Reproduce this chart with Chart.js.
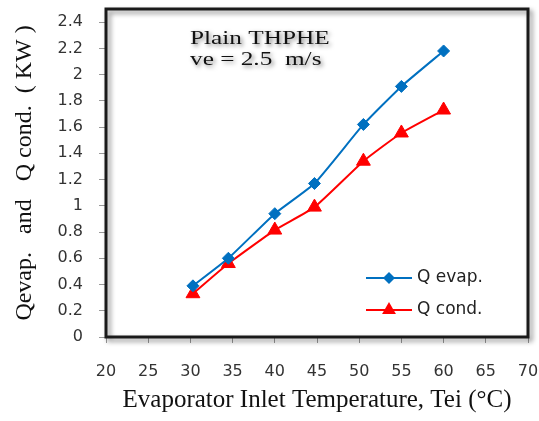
<!DOCTYPE html>
<html>
<head>
<meta charset="utf-8">
<script src="https://cdn.jsdelivr.net/npm/chart.js@4.4.1/dist/chart.umd.min.js"></script>
<style>
  html, body { margin: 0; padding: 0; background: #fff; }
  #chart-container { width: 539px; height: 421px; }
</style>
</head>
<body>
<div id="chart-container"><canvas id="myChart" width="539" height="421"></canvas></div>
<script>
// temperatura de entrada do evaporador (°C)
var tempEntrada = [30.3, 34.5, 40, 44.7, 50.5, 55, 60];
// calor no evaporador e no condensador (kW)
var qEvap = [0.39, 0.60, 0.94, 1.17, 1.62, 1.91, 2.18];
var qCond = [0.33, 0.56, 0.815, 0.99, 1.34, 1.555, 1.73];
var nomesSeries = ["Q evap.", "Q cond."];
var textoCaixa = ["Plain THPHE", "ve = 2.5  m/s"];
// valores das marcas dos eixos
var marcasY = [0, 0.2, 0.4, 0.6, 0.8, 1, 1.2, 1.4, 1.6, 1.8, 2, 2.2, 2.4];
var marcasX = [20, 25, 30, 35, 40, 45, 50, 55, 60, 65, 70];

function pontos(ys) {
    return tempEntrada.map(function (t, i) { return { x: t, y: ys[i] }; });
}

var azul = "#0070C0";
var vermelho = "#FF0000";

// moldura com sombra em volta da area do grafico
var moldura = {
    id: "moldura",
    afterDraw: function (chart) {
        var ctx = chart.ctx;
        var a = chart.chartArea;
        ctx.save();
        ctx.shadowColor = "rgba(0,0,0,0.45)";
        ctx.shadowBlur = 5;
        ctx.shadowOffsetX = 3;
        ctx.shadowOffsetY = 3;
        ctx.strokeStyle = "#1a1a1a";
        ctx.lineWidth = 3;
        ctx.strokeRect(a.left, a.top, a.right - a.left, a.bottom - a.top);
        ctx.restore();
    }
};

// caixa de texto e legenda dentro do grafico
var extras = {
    id: "extras",
    afterDraw: function (chart) {
        var ctx = chart.ctx;
        var a = chart.chartArea;
        ctx.save();
        ctx.fillStyle = "#111";
        ctx.font = "19px 'Liberation Serif'";
        ctx.textBaseline = "alphabetic";
        ctx.shadowColor = "rgba(0,0,0,0.5)";
        ctx.shadowBlur = 4;
        ctx.shadowOffsetX = 2;
        ctx.shadowOffsetY = 2;
        ctx.translate(a.left + 84, a.top);
        ctx.scale(1.33, 1);
        ctx.fillText(textoCaixa[0], 0, 35);
        ctx.fillText(textoCaixa[1], 0, 56);
        ctx.restore();

        // legenda
        var estilos = chart.data.datasets;
        var x0 = a.right - 162;
        var ys = [a.top + 269, a.top + 301];
        ctx.save();
        ctx.font = "17px 'DejaVu Sans'";
        ctx.textBaseline = "middle";
        for (var i = 0; i < estilos.length; i++) {
            var ds = estilos[i];
            ctx.strokeStyle = ds.borderColor;
            ctx.lineWidth = 2;
            ctx.beginPath();
            ctx.moveTo(x0, ys[i]);
            ctx.lineTo(x0 + 46, ys[i]);
            ctx.stroke();
            ctx.fillStyle = ds.pointBackgroundColor;
            Chart.helpers.drawPoint(ctx, {
                pointStyle: ds.pointStyle,
                radius: ds.pointRadius,
                borderWidth: 0,
                rotation: 0
            }, x0 + 23, ys[i]);
            ctx.fillStyle = "#222";
            ctx.fillText(nomesSeries[i], x0 + 51, ys[i]);
        }
        ctx.restore();
    }
};

// zera o espaco extra que a escala pede para os rotulos
function semPadding(s) {
    s.paddingTop = 0;
    s.paddingBottom = 0;
    s.paddingLeft = 0;
    s.paddingRight = 0;
}

var ctx = document.getElementById("myChart").getContext("2d");
var myChart = new Chart(ctx, {
    type: "line",
    data: {
        datasets: [{
            label: nomesSeries[0],
            data: pontos(qEvap),
            borderColor: azul,
            backgroundColor: azul,
            borderWidth: 2,
            pointStyle: "rectRot",
            pointRadius: 6,
            pointBackgroundColor: azul,
            pointBorderColor: azul,
            pointBorderWidth: 1,
            tension: 0.15
        }, {
            label: nomesSeries[1],
            data: pontos(qCond),
            borderColor: vermelho,
            backgroundColor: vermelho,
            borderWidth: 2,
            pointStyle: "triangle",
            pointRadius: 8,
            pointBackgroundColor: vermelho,
            pointBorderColor: vermelho,
            pointBorderWidth: 1,
            tension: 0.15
        }]
    },
    options: {
        responsive: false,
        animation: false,
        layout: { padding: { top: 6, right: 11, left: 0, bottom: 0 } },
        plugins: {
            legend: { display: false },
            tooltip: { enabled: false }
        },
        scales: {
            x: {
                type: "linear",
                min: 20,
                max: 70,
                afterBuildTicks: function (s) {
                    s.ticks = marcasX.map(function (v) { return { value: v }; });
                },
                afterFit: function (s) { s.height = 84; semPadding(s); },
                border: { display: false },
                grid: { drawOnChartArea: false, drawTicks: true, tickLength: 6, color: "#999" },
                ticks: {
                    padding: 19,
                    color: "#333",
                    font: { family: "DejaVu Sans", size: 16 }
                },
                title: {
                    display: true,
                    text: "Evaporator Inlet Temperature, Tei (°C)",
                    color: "#111",
                    font: { family: "Liberation Serif", size: 25 },
                    padding: { top: 0, bottom: 6 }
                }
            },
            y: {
                min: 0,
                max: 2.5,
                afterBuildTicks: function (s) {
                    s.ticks = marcasY.map(function (v) { return { value: v }; });
                },
                afterFit: function (s) { s.width = 106; semPadding(s); },
                border: { display: false },
                grid: { drawOnChartArea: false, drawTicks: true, tickLength: 7, color: "#999" },
                ticks: {
                    padding: 16,
                    color: "#333",
                    font: { family: "DejaVu Sans", size: 16 },
                    callback: function (v) { return String(Number(v.toFixed(1))); }
                },
                title: {
                    display: true,
                    text: "Qevap.   and   Q cond.  ( KW )",
                    color: "#111",
                    font: { family: "Liberation Serif", size: 24 },
                    padding: { top: 10, bottom: 0 }
                }
            }
        }
    },
    plugins: [moldura, extras]
});
</script>
</body>
</html>
